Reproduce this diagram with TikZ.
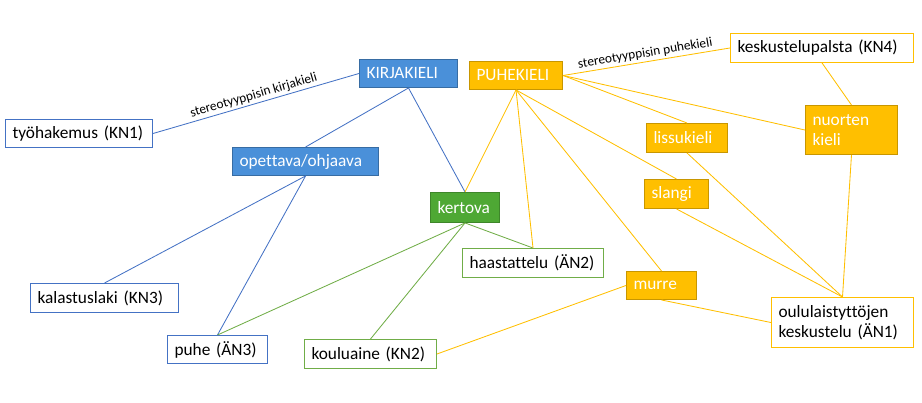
\documentclass[tikz,border=0pt]{standalone}
\usepackage{fontspec}
\setmainfont[Ligatures = NoCommon]{Carlito}
\definecolor{kblue}{RGB}{74,144,217}
\definecolor{kblueline}{RGB}{68,114,196}
\definecolor{pyellow}{RGB}{255,191,0}
\definecolor{pyellowdark}{RGB}{200,150,0}
\definecolor{kgreen}{RGB}{78,168,52}
\definecolor{kgreenline}{RGB}{112,173,71}
\tikzset{
    box/.style = {anchor = north west, align = left, inner xsep = 5pt, inner ysep = 2pt, line width = 0.7pt},
    bluebox/.style = {box, fill = kblue, draw = kblue!75!black, text = white},
    yellowbox/.style = {box, fill = pyellow, draw = pyellowdark, text = white},
    greenbox/.style = {box, fill = kgreen, draw = kgreen!80!black, text = white},
    blueframe/.style = {box, draw = kblueline},
    yellowframe/.style = {box, draw = pyellow},
    greenframe/.style = {box, draw = kgreenline},
    blueline/.style = {kblueline, line width = 0.6pt},
    yellowline/.style = {pyellow, line width = 0.6pt},
    greenline/.style = {kgreenline, line width = 0.6pt},
    edgelabel/.style = {midway, above, sloped, inner sep = 1.5pt, text = black, node font = \fontsize{9.5}{11}\selectfont}
}
\begin{document}
\begin{tikzpicture}[x = 0.025cm, y = -0.025cm, node font = \fontsize{12.3}{14}\selectfont]
        \useasboundingbox (0,0) rectangle (922,402);
        \node [blueframe, text width = 94.6pt, minimum height = 19.9pt] (tyo) at (5,119) {työhakemus (KN1)};
        \node [bluebox, text width = 59.7pt, minimum height = 19.9pt] (kirja) at (359,59) {KIRJAKIELI};
        \node [bluebox, text width = 93.9pt, minimum height = 19.9pt] (opett) at (232,147) {opettava/ohjaava};
        \node [yellowbox, text width = 56.2pt, minimum height = 19.9pt] (puhek) at (469,61) {PUHEKIELI};
        \node [yellowframe, text width = 120.2pt, minimum height = 20.6pt] (kesk) at (730,33) {keskustelupalsta (KN4)};
        \node [yellowbox, text width = 47.6pt, minimum height = 20.6pt] (lissu) at (646,123) {lissukieli};
        \node [yellowbox, text width = 55.4pt, minimum height = 34.9pt] (nuort) at (805,105) {nuorten\\kieli};
        \node [yellowbox, text width = 35.5pt, minimum height = 20.6pt] (slangi) at (644,179) {slangi};
        \node [greenbox, text width = 39.1pt, minimum height = 21.3pt] (kertova) at (430,192) {kertova};
        \node [greenframe, text width = 90.3pt, minimum height = 20.6pt] (haast) at (462,248) {haastattelu (ÄN2)};
        \node [yellowbox, text width = 39.8pt, minimum height = 19.9pt] (murre) at (626,271) {murre};
        \node [yellowframe, text width = 91pt, minimum height = 35.6pt] (oulu) at (771,297) {oululaistyttöjen\\keskustelu (ÄN1)};
        \node [blueframe, text width = 95.3pt, minimum height = 20.6pt] (kala) at (30,283) {kalastuslaki (KN3)};
        \node [blueframe, text width = 61.1pt, minimum height = 19.9pt] (puhe) at (167,335) {puhe (ÄN3)};
        \node [greenframe, text width = 83.9pt, minimum height = 20.6pt] (koulu) at (304,339) {kouluaine (KN2)};
        \draw [blueline] (tyo.east) -- node [edgelabel] {stereotyyppisin kirjakieli} (kirja.west);
        \draw [yellowline] (puhek.east) -- node [edgelabel] {stereotyyppisin puhekieli} (kesk.west);
        \foreach \a/\b in {kirja.south/opett.north, kirja.south/kertova.north, opett.south/kala.north, opett.south/puhe.north}
            \draw [blueline] (\a) -- (\b);
        \foreach \a/\b in {kertova.south/puhe.north, kertova.south/koulu.north, kertova.south/haast.north}
            \draw [greenline] (\a) -- (\b);
        \foreach \a/\b in {puhek.south/kertova.north, puhek.south/haast.north, puhek.south/murre.north, puhek.south/slangi.north, puhek.east/lissu.north, puhek.east/nuort.west, kesk.south/nuort.north, nuort.south/oulu.north, lissu.south/oulu.north, slangi.south/oulu.north, murre.south/oulu.west, murre.west/koulu.east}
            \draw [yellowline] (\a) -- (\b);
    \end{tikzpicture}
\end{document}
